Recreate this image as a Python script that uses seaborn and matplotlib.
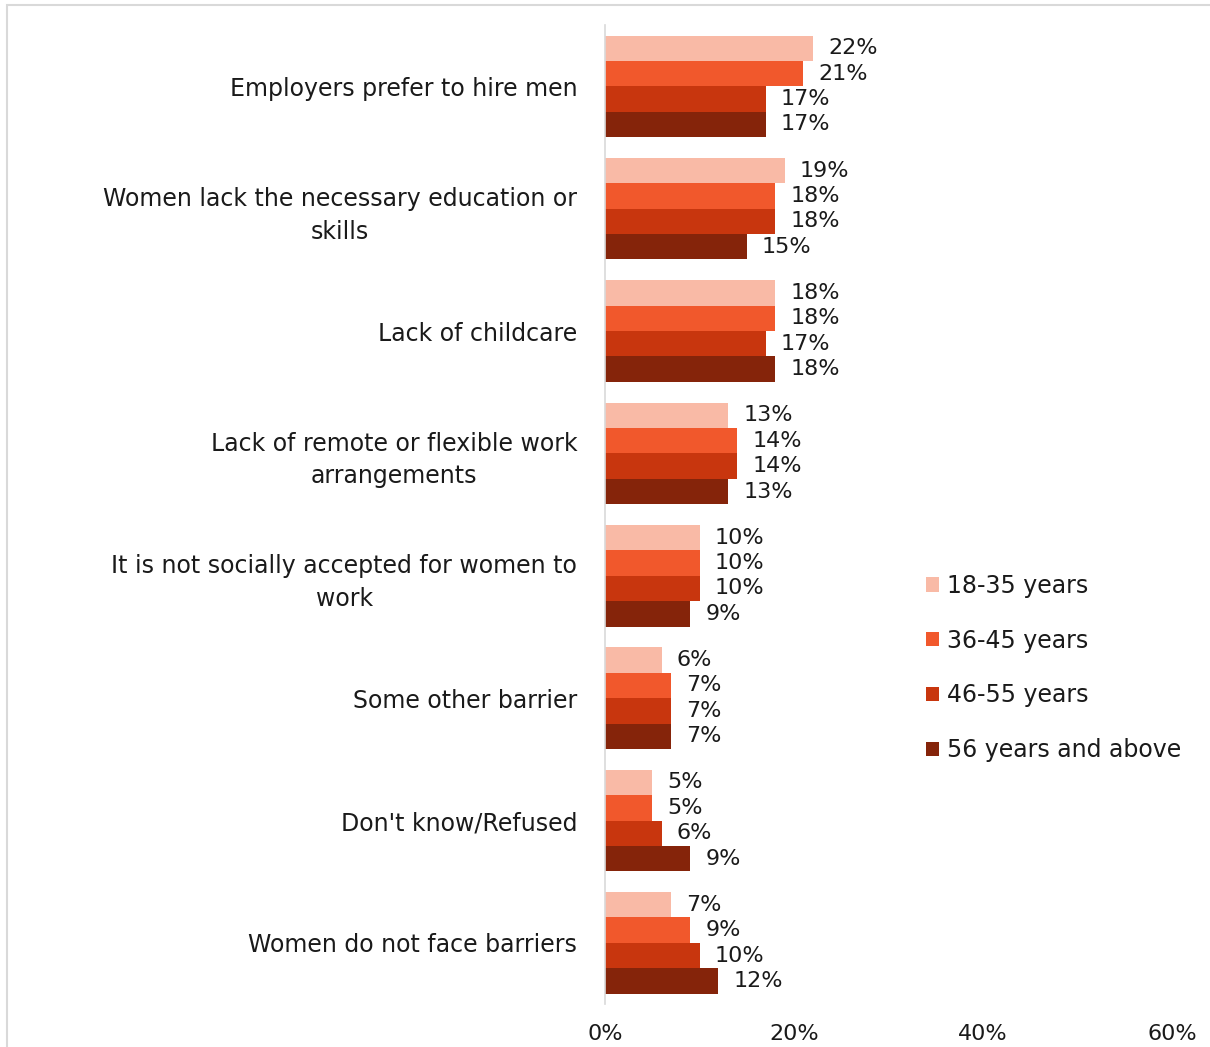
import matplotlib
matplotlib.use("Agg")
import matplotlib.pyplot as plt
import matplotlib.patches as mpatches
import seaborn as sns
import pandas as pd

categories = [
    "Employers prefer to hire men",
    "Women lack the necessary education or\nskills",
    "Lack of childcare",
    "Lack of remote or flexible work\narrangements",
    "It is not socially accepted for women to\nwork",
    "Some other barrier",
    "Don't know/Refused",
    "Women do not face barriers",
]
age_groups = ["18-35 years", "36-45 years", "46-55 years", "56 years and above"]
vals_18_35 = [22, 19, 18, 13, 10, 6, 5, 7]
vals_36_45 = [21, 18, 18, 14, 10, 7, 5, 9]
vals_46_55 = [17, 18, 17, 14, 10, 7, 6, 10]
vals_56_up = [17, 15, 18, 13, 9, 7, 9, 12]
colors = ["#F9BAA6", "#F1582C", "#C8360E", "#85240A"]

series = [vals_18_35, vals_36_45, vals_46_55, vals_56_up]
rows = []
for grp, vals in zip(age_groups, series):
    for cat, v in zip(categories, vals):
        rows.append({"category": cat, "age": grp, "value": v})
df = pd.DataFrame(rows)

sns.set_theme(style="white")
plt.rcParams["font.family"] = ["DejaVu Sans"]
text_color = "#1a1a1a"
fs_text = 17
fs_num = 16

fig = plt.figure(figsize=(12.10, 10.47), dpi=100)
ax = fig.add_axes([0.5, 0.041, 0.4686, 0.935])

sns.barplot(data=df, y="category", x="value", hue="age", order=categories,
            hue_order=age_groups, palette=colors, orient="h", width=0.83,
            saturation=1, linewidth=0, ax=ax, legend=True)

for container in ax.containers:
    ax.bar_label(container, labels=[f"{v:.0f}%" for v in container.datavalues],
                 padding=11, fontsize=fs_num, color=text_color)

ax.set_xlim(0, 60)
ax.set_xticks([0, 20, 40, 60])
ax.set_xticklabels(["0%", "20%", "40%", "60%"])
ax.tick_params(axis="x", length=0, pad=14, labelsize=fs_num, labelcolor=text_color)
ax.tick_params(axis="y", length=0, pad=20, labelsize=fs_text, labelcolor=text_color)
for lbl in ax.get_yticklabels():
    lbl.set_horizontalalignment("right")
    lbl.set_multialignment("center")
    lbl.set_linespacing(1.45)
ax.set_xlabel("")
ax.set_ylabel("")
for side in ["top", "right", "bottom"]:
    ax.spines[side].set_visible(False)
ax.spines["left"].set_color("#D9D9D9")
ax.spines["left"].set_linewidth(1.2)

handles, labels = ax.get_legend_handles_labels()
ax.legend(handles, labels, loc="center left", bbox_to_anchor=(0.765, 0.362),
          bbox_transform=fig.transFigure, frameon=False, fontsize=fs_text,
          handlelength=0.55, handleheight=0.55, handletextpad=0.35,
          labelspacing=1.3, labelcolor=text_color, borderaxespad=0,
          borderpad=0)

# outer frame of the chart area
fig.patches.append(mpatches.Rectangle((7 / 1210, -0.01), 1.02, 1 - 5 / 1047 + 0.01,
                                      transform=fig.transFigure, fill=False,
                                      edgecolor="#D9D9D9", linewidth=1.5))

fig.savefig("out.png", dpi=100)
